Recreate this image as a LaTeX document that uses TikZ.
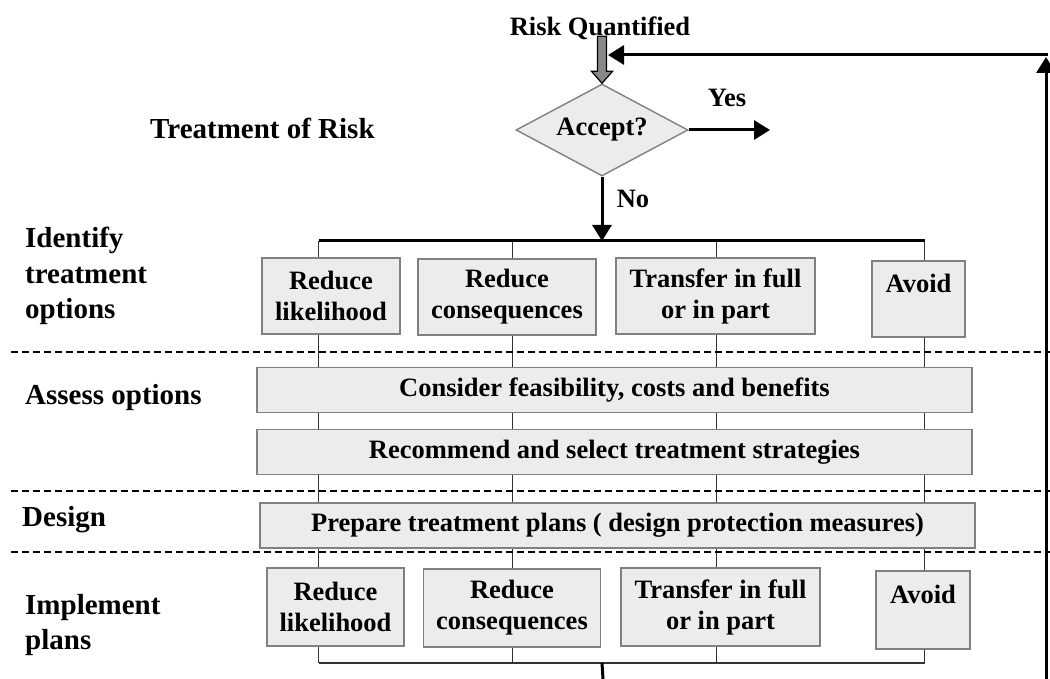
\documentclass[tikz,border=0pt]{standalone}
\usepackage{fontspec}
\setmainfont{Liberation Serif}
\usepackage{tikz}
\usetikzlibrary{shapes.geometric, arrows.meta, positioning, backgrounds}
\definecolor{boxfill}{RGB}{236, 236, 236}
\definecolor{boxline}{RGB}{128, 128, 128}
\definecolor{qgray}{RGB}{136, 136, 136}

\begin{document}
\begin{tikzpicture}[
  x=1pt, y=-1pt,
  lbl/.style={font=\fontsize{29}{35.5}\selectfont\bfseries, align=left, anchor=west, inner sep=0pt},
  txt/.style={font=\fontsize{26.5}{31}\selectfont\bfseries, inner sep=0pt},
  optbox/.style={draw=boxline, fill=boxfill, line width=1.6pt, align=center, minimum height=76pt,
                 font=\fontsize{26.5}{31}\selectfont\bfseries, inner sep=0pt},
  bar/.style={draw=boxline, fill=boxfill, line width=1.6pt, minimum width=715pt, minimum height=45pt,
              font=\fontsize{26.5}{31}\selectfont\bfseries, inner sep=0pt},
  decide/.style={diamond, aspect=1.87, draw=boxline, fill=boxfill, line width=1.4pt, minimum width=172pt,
                 minimum height=92pt, inner sep=0pt, font=\fontsize{26.5}{31}\selectfont\bfseries},
  blockarr/.style={draw=black, fill=qgray, line width=1.2pt, line join=miter},
  arr/.style={-{Triangle[length=16pt, width=19pt]}, line width=3pt},
  col/.style={line width=1.4pt, black!80},
  bus/.style={line width=3pt},
  sep/.style={line width=1.6pt, dash pattern=on 7pt off 4pt},
]
\useasboundingbox (0,0) rectangle (1050,679);

% Decision at the top
\node[txt] (quant) at (600,28) {Risk Quantified};
\node[decide] (accept) at (602,130) {Accept?};
\node[txt] (yes) at (727,98) {Yes};
\node[txt] (no) at (633,199) {No};
\node[lbl] (title) at (150,128) {Treatment of Risk};

% block arrow into the decision
\coordinate (qarrow) at (accept.north);
\draw[blockarr] (qarrow) ++(-4.5,-47) -- ++(9,0) -- ++(0,35) -- ++(6,0) -- (qarrow)
  -- ++(-10.5,-12) -- ++(6,0) -- cycle;

% Stage labels (left)
\node[lbl] (identify) at (25,276) {Identify\\treatment\\options};
\node[lbl] (assess)   at (25,398) {Assess options};
\node[lbl] (design)   at (22,520) {Design};
\node[lbl] (implement) at (25,625) {Implement\\plans};

% Treatment options (top row)
\node[optbox, minimum width=138pt] (tb1) at (331,296) {Reduce\\likelihood};
\node[optbox, minimum width=178pt] (tb2) at (507,297) {Reduce\\consequences};
\node[optbox, minimum width=199pt] (tb3) at (715.5,296) {Transfer in full\\or in part};
\node[optbox, minimum width=93pt]  (tb4) at (918.5,299) {Avoid\\\phantom{A}};

% Assessment and design bars
\node[bar] (feas)   at (614.5,390) {Consider feasibility, costs and benefits};
\node[bar] (select) at (614.5,452) {Recommend and select treatment strategies};
\node[bar] (plans)  at (617.5,525.5) {Prepare treatment plans ( design protection measures)};

% Implementation (bottom row)
\node[optbox, minimum width=137pt, minimum height=78pt] (bb1) at (335.5,607) {Reduce\\likelihood};
\node[optbox, minimum width=177pt, minimum height=78pt] (bb2) at (512,608) {Reduce\\consequences};
\node[optbox, minimum width=199pt, minimum height=78pt] (bb3) at (720.5,607) {Transfer in full\\or in part};
\node[optbox, minimum width=94pt, minimum height=78pt]  (bb4) at (923,610) {Avoid\\\phantom{A}};

% Columns and buses
\foreach \x/\n in {318.5/1, 512.5/2, 716.5/3, 924.5/4} {
  \coordinate (top\n) at (\x,241);
  \coordinate (bot\n) at (\x,663);
}
\begin{scope}[on background layer]
  \foreach \n in {1,2,3,4}
    \draw[col] (top\n) -- (bot\n);
\end{scope}
\draw[bus] (top1) -- (top4);
\draw[col] (bot1) -- (bot4);

% Stage separators
\begin{scope}[on background layer]
  \foreach \y in {352,491,552}
    \draw[sep] (11,\y) -- (1050,\y);
\end{scope}

% Arrows
\coordinate (yesend) at (770,130);
\draw[arr] (accept.east) -- (yesend);
\draw[arr] (accept.south) -- (accept.south |- top1);

% Feedback loop
\coordinate (fbout)    at (603,679);
\coordinate (fbin)     at (1046,679);
\coordinate (fbcorner) at (1046,55);
\coordinate (fbtip)    at (608,55);
\draw[bus] (accept.south |- bot1) -- (fbout);
\draw[arr] (fbin) -- ([yshift=-2pt]fbcorner);
\draw[arr] ([xshift=1.5pt]fbcorner) -- (fbtip);

\end{tikzpicture}
\end{document}
